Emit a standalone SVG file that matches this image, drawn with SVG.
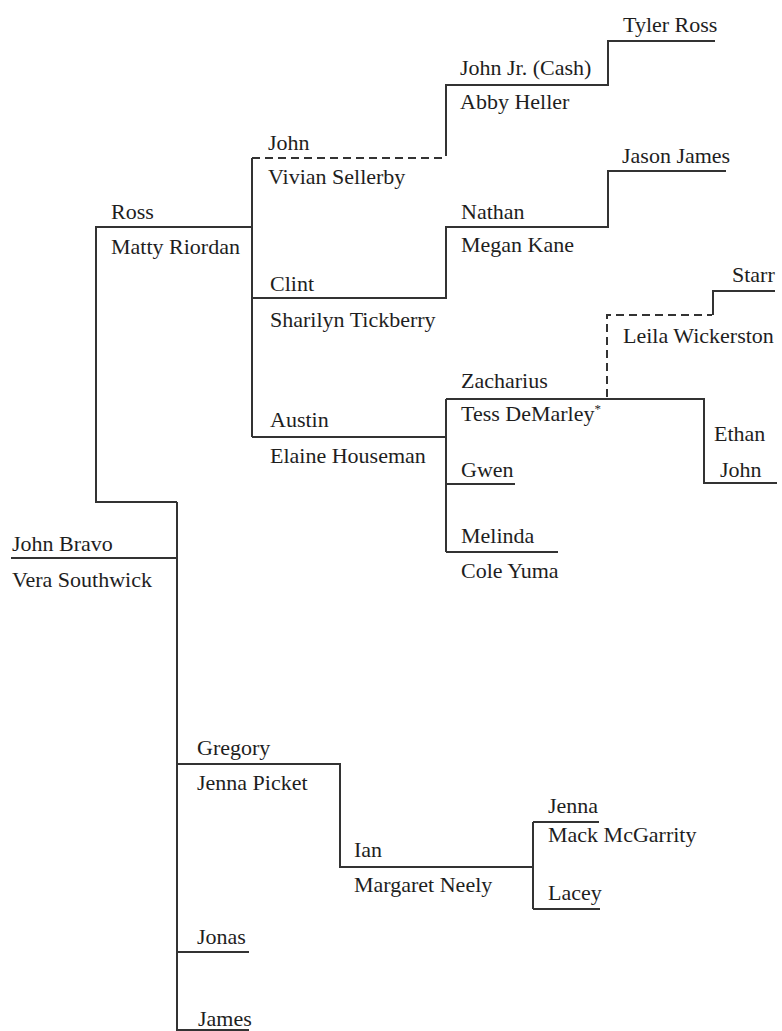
<svg xmlns="http://www.w3.org/2000/svg" width="782" height="1031" viewBox="0 0 782 1031">
<style>
text{font-family:"Liberation Serif","DejaVu Serif",serif;font-size:22px;fill:#1e1e1e}
.ln{fill:none;stroke:#333;stroke-width:2}
.dash{stroke-dasharray:8 5}
.sup{font-size:13px}
</style>
<rect width="782" height="1031" fill="#fff"/>
<g id="connectors">
<path class="ln" d="M11,558 H177"/>
<path class="ln" d="M177,502 V1031"/>
<path class="ln" d="M177,502 H96 V227 H252"/>
<path class="ln" d="M252,158 V437"/>
<path class="ln dash" d="M252,158 H446"/>
<path class="ln" d="M446,156 V85 H608 V41 H715"/>
<path class="ln" d="M252,298 H446 V227 H608 V171 H726"/>
<path class="ln" d="M252,437 H446"/>
<path class="ln" d="M446,399 V552"/>
<path class="ln" d="M446,399 H704 V483 H777"/>
<path class="ln dash" d="M607,397 V315 H712"/>
<path class="ln" d="M713,315 V291 H775"/>
<path class="ln" d="M446,484 H515"/>
<path class="ln" d="M446,552 H558"/>
<path class="ln" d="M177,764 H340 V867 H533"/>
<path class="ln" d="M533,822 V909"/>
<path class="ln" d="M533,822 H599"/>
<path class="ln" d="M533,909 H600"/>
<path class="ln" d="M177,952 H249"/>
<path class="ln" d="M177,1030 H249"/>
</g>
<g font-family="Liberation Serif, DejaVu Serif, serif">
<g id="john-bravo"><text x="12" y="551">John Bravo</text><text x="12" y="587">Vera Southwick</text></g>
<g id="ross"><text x="111" y="219">Ross</text><text x="111" y="254">Matty Riordan</text></g>
<g id="john"><text x="268" y="150">John</text><text x="268" y="184">Vivian Sellerby</text></g>
<g id="john-jr"><text x="460" y="75">John Jr. (Cash)</text><text x="460" y="109">Abby Heller</text></g>
<g id="tyler-ross"><text x="623" y="32">Tyler Ross</text></g>
<g id="clint"><text x="270" y="291">Clint</text><text x="270" y="327">Sharilyn Tickberry</text></g>
<g id="nathan"><text x="461" y="219">Nathan</text><text x="461" y="252">Megan Kane</text></g>
<g id="jason-james"><text x="622" y="163">Jason James</text></g>
<g id="starr"><text x="732" y="282">Starr</text></g>
<g id="leila"><text x="623" y="343">Leila Wickerston</text></g>
<g id="austin"><text x="270" y="427">Austin</text><text x="270" y="463">Elaine Houseman</text></g>
<g id="zacharius"><text x="461" y="388">Zacharius</text><text x="461" y="421">Tess DeMarley<tspan class="sup" dy="-8">*</tspan></text></g>
<g id="ethan-john"><text x="714" y="441">Ethan</text><text x="720" y="477">John</text></g>
<g id="gwen"><text x="461" y="477">Gwen</text></g>
<g id="melinda"><text x="461" y="543">Melinda</text><text x="461" y="578">Cole Yuma</text></g>
<g id="gregory"><text x="197" y="755">Gregory</text><text x="197" y="790">Jenna Picket</text></g>
<g id="ian"><text x="354" y="857">Ian</text><text x="354" y="892">Margaret Neely</text></g>
<g id="jenna"><text x="548" y="813">Jenna</text><text x="548" y="842">Mack McGarrity</text></g>
<g id="lacey"><text x="548" y="900">Lacey</text></g>
<g id="jonas"><text x="197" y="944">Jonas</text></g>
<g id="james"><text x="198" y="1026">James</text></g>
</g>
</svg>
